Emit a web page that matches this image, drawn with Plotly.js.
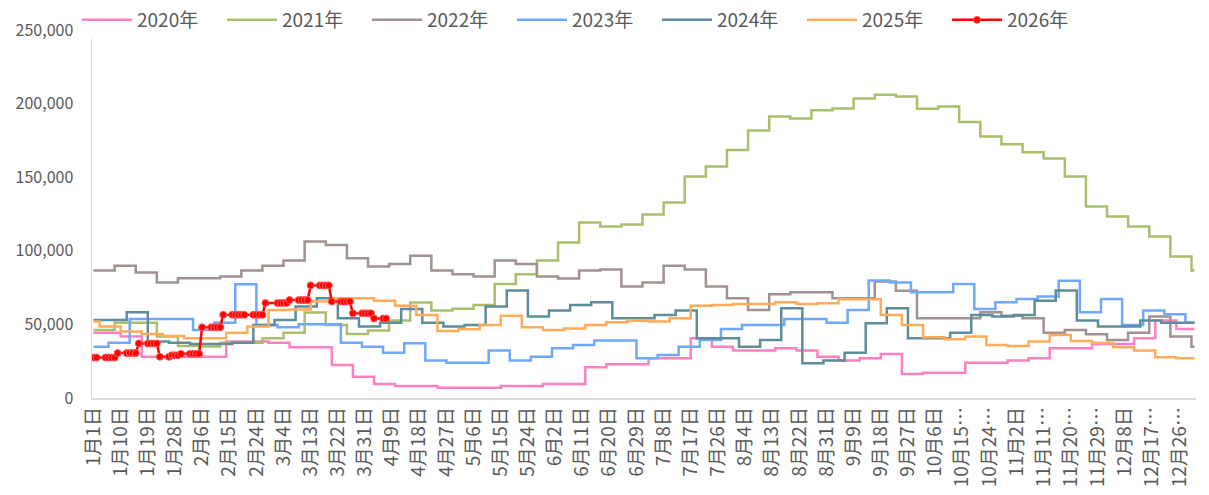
<!DOCTYPE html>
<html>
<head>
<meta charset="utf-8">
<script src="https://cdn.plot.ly/plotly-3.0.1.min.js"></script>
<style>
  html, body { margin: 0; padding: 0; background: #fff; }
  #chart { width: 1209px; height: 495px; }
</style>
</head>
<body>
<div id="chart"></div>
<script>
// category axis: every month-day (with 2月29日)
var monthDays = [31, 29, 31, 30, 31, 30, 31, 31, 30, 31, 30, 31];
var cats = [];
monthDays.forEach(function (n, m) {
  for (var d = 1; d <= n; d++) cats.push((m + 1) + '月' + d + '日');
});

// weekly values, first change day of each year's week
var y2020 = [44400, 44400, 41700, 28100, 28100, 28100, 28100, 38300, 38300, 37600, 34500, 34500, 22400, 14500,
  9500, 8200, 8200, 7000, 7000, 7000, 8200, 8200, 9500, 9500, 20900, 22900, 22900, 27000, 27000, 40600,
  34900, 32200, 32200, 33800, 32200, 28100, 25400, 27000, 29900, 16300, 17200, 17200, 24000, 24000, 25400,
  27000, 33800, 33800, 36700, 36700, 40600, 52600, 46900];
var y2021 = [46200, 51200, 51200, 41700, 35400, 35000, 37600, 37600, 40600, 44400, 58000, 49600, 43500, 45800,
  52600, 64800, 59400, 60700, 63200, 77500, 84100, 93400, 105600, 119200, 116500, 117900, 124700, 132800,
  150500, 157300, 168400, 181800, 191300, 189900, 195400, 196700, 203500, 206000, 204900, 196500, 198100,
  187500, 177700, 172300, 167000, 162700, 150500, 130100, 123300, 116500, 109700, 96100, 86600];
var y2022 = [86600, 89800, 85200, 78400, 81400, 81400, 82500, 86600, 89800, 93400, 106300, 104000, 95000, 89300,
  91100, 96600, 86600, 84100, 82500, 93400, 91100, 82500, 81100, 86600, 87300, 75700, 78400, 89800, 87300,
  75700, 67800, 59800, 70500, 71900, 71900, 67800, 67800, 79100, 72800, 54200, 54200, 54200, 58300, 55800,
  54200, 44400, 46200, 43300, 39400, 44400, 55300, 41700, 34900];
var y2023 = [34900, 37600, 53700, 53700, 53700, 46200, 51200, 77300, 49600, 48100, 50100, 50100, 37600, 34900,
  30800, 37200, 25400, 24000, 24000, 32200, 25400, 28100, 33800, 36000, 39000, 39000, 27000, 29200, 34900,
  39400, 46900, 49600, 49600, 53700, 53700, 51200, 59800, 79800, 78400, 71900, 71900, 77500, 60500, 65100,
  67300, 68900, 79600, 58300, 67300, 49600, 59400, 56900, 51200];
var y2024 = [53000, 53000, 58300, 38300, 37600, 36700, 36700, 37600, 49600, 53000, 62100, 67800, 54200, 48500,
  51200, 60500, 51200, 48500, 49600, 62100, 73000, 55300, 59400, 63200, 65100, 54200, 54200, 56400, 59400,
  40600, 40600, 34900, 39400, 61000, 23600, 25400, 30800, 50800, 61000, 40600, 40600, 44400, 56400, 55300,
  56400, 66000, 73000, 52600, 48500, 48500, 52600, 51200, 51200];
var y2025 = [51900, 48500, 45100, 43500, 42200, 40600, 40600, 44400, 48500, 59800, 60200, 65500, 67800, 67800,
  66000, 62600, 56400, 45600, 46700, 49600, 55800, 48100, 46200, 47200, 49600, 51500, 52400, 52000, 54200,
  62600, 63200, 63900, 63900, 65100, 63900, 64400, 67100, 67100, 56400, 49600, 41300, 39900, 41700, 36000,
  35400, 38300, 42800, 38800, 37600, 34500, 32200, 27700, 27000];
var weekStart = { '2020': 2, '2021': 7, '2022': 7, '2023': 5, '2024': 4, '2025': 2 };

// 2026 daily
var d2026 = ['1月1日', '1月2日', '1月5日', '1月6日', '1月7日', '1月8日', '1月9日', '1月12日', '1月13日', '1月14日',
  '1月15日', '1月16日', '1月19日', '1月20日', '1月21日', '1月22日', '1月23日', '1月26日', '1月27日', '1月28日',
  '1月29日', '1月30日', '2月2日', '2月3日', '2月4日', '2月5日', '2月6日', '2月9日', '2月10日', '2月11日',
  '2月12日', '2月13日', '2月16日', '2月17日', '2月18日', '2月19日', '2月20日', '2月23日', '2月24日', '2月25日',
  '2月26日', '2月27日', '3月2日', '3月3日', '3月4日', '3月5日', '3月6日', '3月9日', '3月10日', '3月11日',
  '3月12日', '3月13日', '3月16日', '3月17日', '3月18日', '3月19日', '3月20日', '3月23日', '3月24日', '3月25日',
  '3月26日', '3月27日', '3月30日', '3月31日', '4月1日', '4月2日', '4月3日', '4月6日', '4月7日'];
var y2026 = [27500, 27500, 27500, 27500, 27500, 27500, 30500, 30500, 30500, 30500,
  30500, 37000, 37000, 37000, 37000, 37000, 28000, 28000, 29000, 29000,
  29000, 30000, 30000, 30000, 30000, 30000, 48000, 48000, 48000, 48000,
  48000, 56500, 56500, 56500, 56500, 56500, 56500, 56500, 56500, 56500,
  56500, 64500, 64500, 64500, 64500, 64500, 66500, 66500, 66500, 66500,
  66500, 76500, 76500, 76500, 76500, 76500, 65500, 65500, 65500, 65500,
  65500, 57500, 57500, 57500, 57500, 57500, 54000, 54000, 54000];

var colors = { '2020': '#ff7fc1', '2021': '#a9bf6b', '2022': '#a19190', '2023': '#6fa8ff',
  '2024': '#5d8c9c', '2025': '#ffab5a', '2026': '#ff0000' };

function weekly(year, vals) {
  var p = weekStart[year];
  var x = vals.map(function (v, i) { return cats[i === 0 ? 0 : p - 7 + 7 * i]; });
  var y = vals.slice();
  x.push(cats[cats.length - 1]);
  y.push(vals[vals.length - 1]);
  return {
    x: x, y: y, name: year + '年', type: 'scatter', mode: 'lines',
    line: { color: colors[year], width: 2.5, shape: 'hv' }
  };
}

var data = [
  weekly('2020', y2020),
  weekly('2021', y2021),
  weekly('2022', y2022),
  weekly('2023', y2023),
  weekly('2024', y2024),
  weekly('2025', y2025),
  {
    x: d2026, y: y2026, name: '2026年', type: 'scatter', mode: 'lines+markers',
    line: { color: colors['2026'], width: 2.5 },
    marker: { color: '#ff0000', size: 7, line: { color: '#ff5c5c', width: 1 } }
  }
];

var tickvals = [], ticktext = [];
for (var i = 0; i < cats.length; i += 9) {
  tickvals.push(cats[i]);
  ticktext.push(cats[i].length > 5 ? cats[i].slice(0, 5) + '…' : cats[i]);
}

var layout = {
  width: 1209, height: 495,
  margin: { l: 92, r: 13, t: 30, b: 97, autoexpand: false },
  paper_bgcolor: '#fff', plot_bgcolor: '#fff',
  font: { family: '"Noto Sans CJK SC", "Noto Sans", sans-serif', color: '#595959' },
  showlegend: true,
  legend: {
    orientation: 'h', xref: 'container', yref: 'container',
    x: 0.0637, xanchor: 'left', y: 0.9596, yanchor: 'middle',
    entrywidth: 80, entrywidthmode: 'pixels', itemwidth: 50,
    font: { size: 19, color: '#595959' }
  },
  xaxis: {
    type: 'category', categoryorder: 'array', categoryarray: cats,
    range: [-0.5, cats.length - 0.5],
    tickmode: 'array', tickvals: tickvals, ticktext: ticktext,
    tickangle: -90, tickfont: { size: 19, color: '#595959' },
    showgrid: false, zeroline: false, ticks: '',
    showline: true, linecolor: '#d9d9d9', linewidth: 1.5
  },
  yaxis: {
    range: [0, 250000], dtick: 50000, tickformat: ',',
    tickfont: { size: 16, color: '#595959' },
    showgrid: false, zeroline: false, ticks: '', ticklabelstandoff: 14,
    showline: true, linecolor: '#d9d9d9', linewidth: 1.5
  }
};

Plotly.newPlot('chart', data, layout, { displayModeBar: false, staticPlot: true });
</script>
</body>
</html>
